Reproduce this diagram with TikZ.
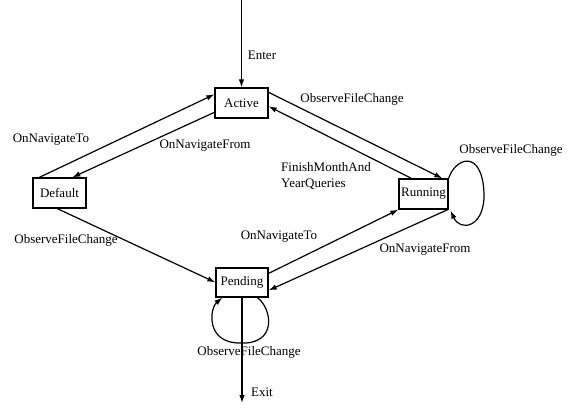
\documentclass[tikz,border=0pt]{standalone}
\usepackage{fontspec}
\setmainfont{Liberation Serif}
\usetikzlibrary{arrows.meta,calc}
\begin{document}
\begin{tikzpicture}[x=1bp,y=-1bp,
  state/.style={draw,line width=1.3bp,inner sep=0pt,font=\fontsize{13bp}{15bp}\selectfont},
  lbl/.style={inner sep=0pt,font=\fontsize{13bp}{16bp}\selectfont},
  arr/.style={line width=1.2bp,-{Latex[length=8bp,width=5.5bp]}},
  plain/.style={line width=1.2bp}]
\useasboundingbox (0,0) rectangle (573,407);
% states
\node[state,minimum width=53bp,minimum height=30bp] (Active) at (241.5,103) {Active};
\node[state,minimum width=53bp,minimum height=30bp] (Default) at (59.5,193) {Default};
\node[state,minimum width=52bp,minimum height=29bp] (Pending) at (242,282.5) {Pending};
\node[state,minimum width=49bp,minimum height=30bp] (Running) at (423.5,194) {Running};
\coordinate (start) at (241.5,0);
\coordinate (stop) at (242,403);
\coordinate (rloop) at (484,193);
\coordinate (ploop) at (240,343);
% edges
\draw[arr] (start) -- (Active.north);
\draw[arr] (Pending.south) -- (stop);
\draw[arr] ($(Default.north west)+(7,0)$) -- ($(Active.north west)+(0,7)$);
\draw[arr] ($(Active.north west)+(0,25)$) -- ($(Default.north west)+(40,0)$);
\draw[arr] ($(Active.north east)+(0,5)$) -- ($(Running.north west)+(44,0)$);
\draw[arr] ($(Running.north west)+(13,0)$) -- ($(Active.north east)+(0,19)$);
\draw[arr] ($(Default.south west)+(25,0)$) -- ($(Pending.north west)+(0,15)$);
\draw[arr] ($(Pending.north east)+(0,6)$) -- (Running.south west);
\draw[arr] ($(Running.south east)+(-1,0)$) -- ($(Pending.north east)+(0,23)$);
\draw[arr] (Running.north east) .. controls (455,158) and (482,148) .. (rloop)
  .. controls (485,228) and (460,232) .. ($(Running.south east)+(2,1)$);
\draw[arr] ($(Pending.south west)+(42,0)$) .. controls (272,308) and (278,345) .. (ploop)
  .. controls (205,343) and (210,308) .. ($(Pending.south west)+(7,0)$);
% labels
\node[lbl] (lEnter) at (262,55) {Enter};
\node[lbl] (lExit) at (262,392) {Exit};
\node[lbl] (lNavTo1) at (51,140) {OnNavigateTo};
\node[lbl] (lNavFrom1) at (205,146) {OnNavigateFrom};
\node[lbl] (lObs1) at (352,99) {ObserveFileChange};
\node[lbl,align=left] (lFinish) at (326,176) {FinishMonthAnd\\YearQueries};
\node[lbl] (lObs2) at (511,150) {ObserveFileChange};
\node[lbl] (lObs3) at (66,240) {ObserveFileChange};
\node[lbl] (lNavTo2) at (279,237) {OnNavigateTo};
\node[lbl] (lNavFrom2) at (425,250) {OnNavigateFrom};
\node[lbl] (lObs4) at (249,352) {ObserveFileChange};
\end{tikzpicture}
\end{document}
